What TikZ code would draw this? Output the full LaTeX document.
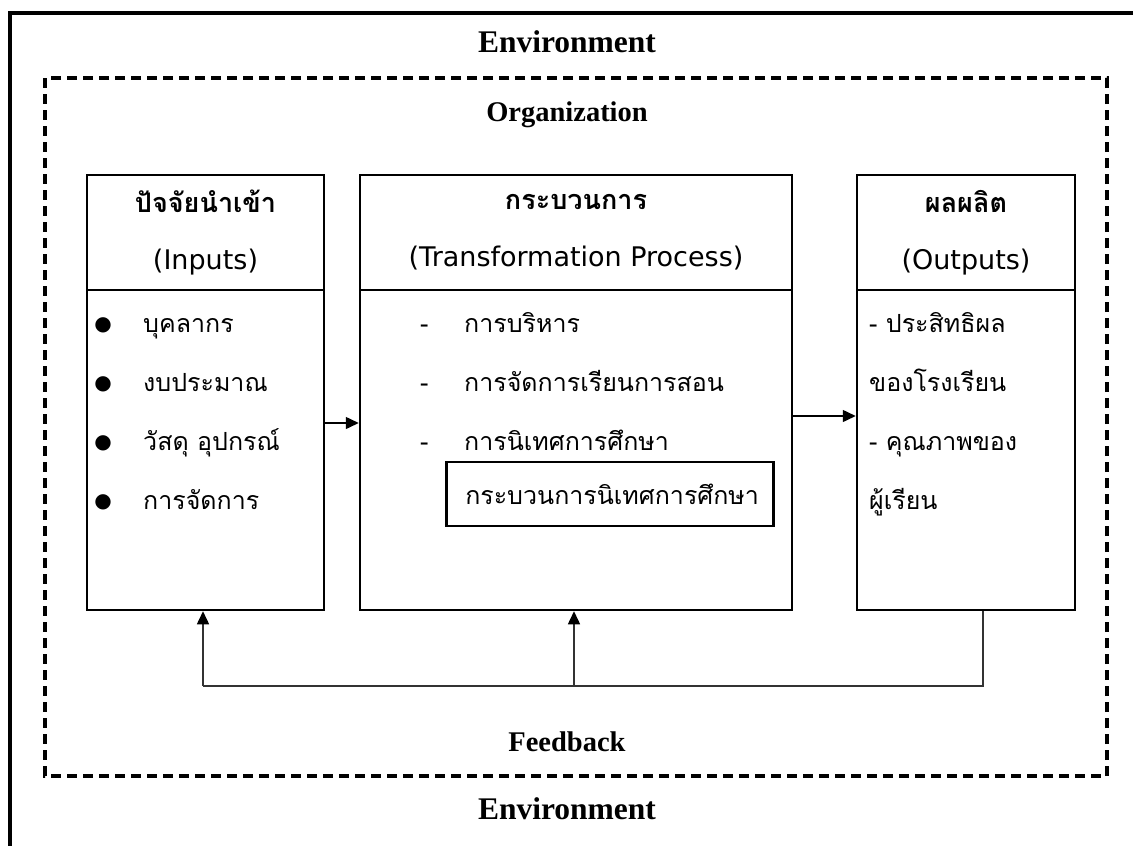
\documentclass[tikz,border=0pt]{standalone}
\usepackage{fontspec}
\usepackage{tikz}
\usetikzlibrary{arrows.meta}
\setmainfont{Liberation Serif}
\newfontfamily\thaifont[Script=Thai]{Loma}
\newfontfamily\latinfont{DejaVu Sans}
\newfontfamily\symfont{DejaVu Sans}

\tikzset{
  box/.style={draw, line width=2.5pt, inner sep=0pt},
  headtext/.style={align=center, font=\thaifont\fontsize{27}{57}\selectfont},
  itemtext/.style={anchor=base west, inner sep=0pt, font=\thaifont\fontsize{25}{30}\selectfont},
  dotmark/.style={inner sep=0pt, font=\symfont\fontsize{20}{24}\selectfont},
  envtext/.style={font=\bfseries\fontsize{31.5}{34}\selectfont},
  orgtext/.style={font=\bfseries\fontsize{28.5}{32}\selectfont},
  flow/.style={line width=1.5pt, -{Triangle[length=13pt,width=12pt,color=black]}},
  fback/.style={line width=1.5pt, draw=black!80},
}

\begin{document}
\begin{tikzpicture}[x=1pt,y=-1pt]
\useasboundingbox (0,0) rectangle (1133,846);
% frames
\draw[line width=4pt] (10,13) rectangle (1160,880);
\draw[line width=3.5pt, dash pattern=on 10pt off 6pt] (45,78) rectangle (1107,776);
\node at (567,42) (envtop) [envtext] {Environment};
\node at (567,115) (org) [orgtext] {Organization};
\node at (567,742) (fbtext) [orgtext] {Feedback};
\node at (567,809) (envbot) [envtext] {Environment};

% inputs
\node at (205.5,232.5) (inhead) [box, minimum width=237pt, minimum height=115pt, headtext] {\textbf{ปัจจัยนำเข้า}\\{\latinfont(Inputs)}};
\node at (205.5,450) (inbody) [box, minimum width=237pt, minimum height=320pt] {};
\node at (103,325) (dot1) [dotmark] {●};
\node at (103,384) (dot2) [dotmark] {●};
\node at (103,443) (dot3) [dotmark] {●};
\node at (103,502) (dot4) [dotmark] {●};
\node at (143,332) (in1) [itemtext] {บุคลากร};
\node at (143,391) (in2) [itemtext] {งบประมาณ};
\node at (143,450) (in3) [itemtext] {วัสดุ อุปกรณ์};
\node at (143,509) (in4) [itemtext] {การจัดการ};

% process
\node at (576,232.5) (midhead) [box, minimum width=432pt, minimum height=115pt, headtext] {\textbf{กระบวนการ}\\{\latinfont(Transformation Process)}};
\node at (576,450) (midbody) [box, minimum width=432pt, minimum height=320pt] {};
\node at (420,332) (dash1) [itemtext] {-};
\node at (420,391) (dash2) [itemtext] {-};
\node at (420,450) (dash3) [itemtext] {-};
\node at (464,332) (mid1) [itemtext] {การบริหาร};
\node at (464,391) (mid2) [itemtext] {การจัดการเรียนการสอน};
\node at (464,450) (mid3) [itemtext] {การนิเทศการศึกษา};
\node at (445,494) (sub) [box, anchor=west, minimum width=327pt, minimum height=64pt, inner xsep=19pt, text width=289pt, align=left, font=\thaifont\fontsize{25}{30}\selectfont] {กระบวนการนิเทศการศึกษา};

% outputs
\node at (966,232.5) (outhead) [box, minimum width=218pt, minimum height=115pt, headtext] {\textbf{ผลผลิต}\\{\latinfont(Outputs)}};
\node at (966,450) (outbody) [box, minimum width=218pt, minimum height=320pt] {};
\node at (869,332) (out1) [itemtext] {- ประสิทธิผล};
\node at (869,391) (out2) [itemtext] {ของโรงเรียน};
\node at (869,450) (out3) [itemtext] {- คุณภาพของ};
\node at (869,509) (out4) [itemtext] {ผู้เรียน};

% arrows
\draw[flow] (inbody.east |- 0,423) -- (midbody.west |- 0,423);
\draw[flow] (midbody.east |- 0,416) -- (outbody.west |- 0,416);

% feedback
\coordinate (fbR) at (983,686);
\coordinate (fbM) at (574,686);
\coordinate (fbL) at (203,686);
\draw[fback] (outbody.south -| fbR) -- (fbR) -- (fbL);
\draw[fback, flow] (fbL) -- (fbL |- inbody.south);
\draw[fback, flow] (fbM) -- (fbM |- midbody.south);
\end{tikzpicture}
\end{document}
